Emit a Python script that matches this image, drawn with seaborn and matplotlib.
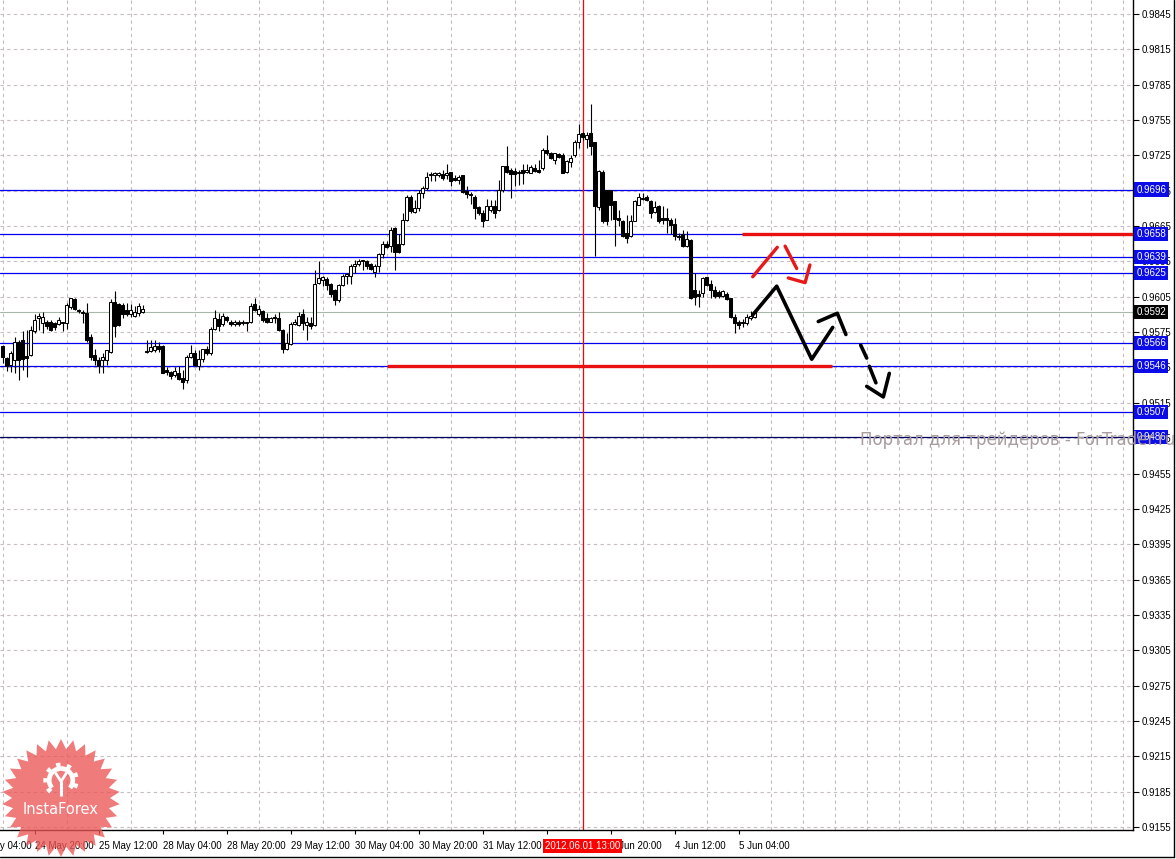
import matplotlib
matplotlib.use("Agg")
import matplotlib.pyplot as plt
import matplotlib.transforms as mtransforms
from matplotlib.lines import Line2D
from matplotlib.patches import Polygon, Wedge
from matplotlib.ticker import MultipleLocator, FormatStrFormatter
import numpy as np
import pandas as pd
import seaborn as sns

# H1 candles, bar 0 = 24 May 12:00 (weekend skipped)
opens = [
    .9563, .9553, .9547, .9551, .9567, .9568, .9555, .9556, .9576, .9587,
    .9583, .9584, .9584, .9583, .9582, .9583, .9583, .9596, .9603, .9594,
    .9592, .9591, .9571, .9556, .9551, .9551, .9551, .9558, .9601, .9599,
    .9598, .9594, .9590, .9589, .9591, .9592, .9558, .9559, .9560, .9563,
    .9563, .9543, .9541, .9539, .9540, .9536, .9534, .9554, .9557, .9546,
    .9552, .9561, .9557, .9578, .9586, .9582, .9588, .9584, .9582, .9584,
    .9583, .9583, .9584, .9599, .9590, .9593, .9587, .9584, .9588, .9587,
    .9577, .9561, .9565, .9582, .9581, .9590, .9581, .9583, .9581, .9617,
    .9619, .9620, .9616, .9611, .9602, .9615, .9623, .9623, .9631, .9633,
    .9635, .9635, .9633, .9626, .9631, .9641, .9650, .9648, .9663, .9650,
    .9650, .9670, .9690, .9677, .9680, .9693, .9697, .9708, .9708, .9708,
    .9709, .9708, .9711, .9706, .9704, .9708, .9695, .9692, .9690, .9681,
    .9676, .9670, .9679, .9682, .9679, .9696, .9716, .9713, .9712, .9710,
    .9713, .9711, .9710, .9714, .9713, .9714, .9730, .9727, .9721, .9726,
    .9725, .9711, .9719, .9725, .9736, .9744, .9739, .9744, .9736, .9681,
    .9711, .9696, .9696, .9686, .9672, .9669, .9659, .9657, .9669, .9683,
    .9688, .9690, .9686, .9677, .9682, .9672, .9672, .9670, .9667, .9657,
    .9658, .9648, .9653, .9611, .9607, .9608, .9622, .9616, .9611, .9609,
    .9606, .9607, .9604, .9588, .9584, .9583, .9583, .9587, .9588,
]
highs = [
    .9564, .9554, .9559, .9571, .9568, .9576, .9577, .9580, .9590, .9591,
    .9592, .9585, .9585, .9584, .9588, .9584, .9600, .9604, .9604, .9595,
    .9594, .9600, .9573, .9561, .9554, .9557, .9560, .9603, .9610, .9600,
    .9600, .9600, .9599, .9597, .9600, .9598, .9568, .9568, .9568, .9567,
    .9564, .9545, .9542, .9545, .9546, .9543, .9556, .9564, .9560, .9560,
    .9561, .9563, .9579, .9594, .9591, .9591, .9589, .9585, .9585, .9585,
    .9585, .9584, .9600, .9604, .9598, .9594, .9591, .9588, .9590, .9592,
    .9578, .9574, .9584, .9586, .9592, .9595, .9588, .9588, .9628, .9635,
    .9623, .9622, .9617, .9612, .9616, .9624, .9625, .9633, .9636, .9637,
    .9636, .9636, .9634, .9633, .9642, .9652, .9652, .9664, .9664, .9658,
    .9676, .9691, .9691, .9687, .9696, .9699, .9711, .9711, .9711, .9711,
    .9713, .9718, .9711, .9708, .9708, .9708, .9699, .9694, .9691, .9682,
    .9679, .9688, .9687, .9687, .9704, .9716, .9733, .9714, .9714, .9713,
    .9718, .9718, .9717, .9718, .9721, .9731, .9742, .9728, .9727, .9727,
    .9727, .9721, .9725, .9738, .9752, .9745, .9745, .9769, .9736, .9713,
    .9713, .9696, .9696, .9686, .9679, .9670, .9674, .9674, .9687, .9693,
    .9693, .9691, .9687, .9686, .9683, .9682, .9680, .9672, .9672, .9659,
    .9662, .9661, .9654, .9625, .9611, .9622, .9622, .9619, .9614, .9611,
    .9611, .9609, .9604, .9590, .9585, .9586, .9590, .9593, .9591,
]
lows = [
    .9549, .9542, .9541, .9540, .9534, .9543, .9537, .9555, .9574, .9577,
    .9574, .9578, .9576, .9577, .9581, .9576, .9578, .9595, .9594, .9591,
    .9583, .9567, .9551, .9547, .9540, .9540, .9547, .9557, .9571, .9580,
    .9587, .9589, .9588, .9588, .9589, .9591, .9557, .9558, .9558, .9558,
    .9540, .9539, .9535, .9537, .9534, .9527, .9532, .9553, .9546, .9543,
    .9550, .9556, .9556, .9577, .9576, .9580, .9584, .9580, .9580, .9580,
    .9581, .9576, .9583, .9593, .9589, .9584, .9583, .9584, .9583, .9576,
    .9557, .9560, .9564, .9581, .9580, .9577, .9568, .9578, .9580, .9616,
    .9614, .9611, .9605, .9598, .9601, .9614, .9616, .9616, .9625, .9631,
    .9628, .9629, .9628, .9622, .9626, .9638, .9646, .9643, .9628, .9642,
    .9649, .9669, .9676, .9676, .9678, .9689, .9696, .9703, .9703, .9707,
    .9704, .9705, .9699, .9703, .9701, .9693, .9689, .9684, .9671, .9674,
    .9664, .9670, .9677, .9672, .9678, .9694, .9710, .9689, .9699, .9700,
    .9701, .9710, .9710, .9711, .9710, .9713, .9725, .9722, .9718, .9723,
    .9710, .9710, .9715, .9724, .9731, .9738, .9731, .9725, .9640, .9679,
    .9668, .9666, .9670, .9648, .9665, .9656, .9651, .9656, .9669, .9683,
    .9687, .9686, .9672, .9676, .9668, .9667, .9659, .9658, .9653, .9653,
    .9647, .9647, .9603, .9598, .9596, .9605, .9614, .9604, .9604, .9604,
    .9605, .9602, .9587, .9574, .9578, .9579, .9581, .9585, .9587,
]
closes = [
    .9554, .9546, .9557, .9567, .9551, .9552, .9553, .9577, .9585, .9589,
    .9588, .9580, .9577, .9579, .9585, .9584, .9598, .9604, .9595, .9593,
    .9591, .9568, .9554, .9551, .9546, .9554, .9560, .9601, .9580, .9581,
    .9590, .9590, .9594, .9592, .9597, .9595, .9559, .9562, .9563, .9561,
    .9540, .9541, .9538, .9542, .9535, .9533, .9554, .9557, .9547, .9552,
    .9561, .9557, .9578, .9587, .9580, .9589, .9585, .9582, .9584, .9582,
    .9583, .9584, .9597, .9594, .9595, .9585, .9584, .9587, .9587, .9577,
    .9561, .9566, .9582, .9584, .9589, .9583, .9584, .9580, .9616, .9621,
    .9622, .9615, .9607, .9602, .9615, .9623, .9624, .9631, .9633, .9635,
    .9636, .9631, .9629, .9631, .9641, .9650, .9647, .9662, .9643, .9643,
    .9670, .9690, .9678, .9680, .9693, .9697, .9707, .9709, .9710, .9710,
    .9706, .9710, .9703, .9704, .9707, .9694, .9692, .9691, .9680, .9676,
    .9669, .9682, .9682, .9676, .9696, .9716, .9711, .9709, .9709, .9711,
    .9710, .9713, .9715, .9712, .9711, .9730, .9727, .9723, .9727, .9724,
    .9710, .9720, .9723, .9736, .9743, .9741, .9742, .9733, .9682, .9712,
    .9669, .9669, .9683, .9671, .9670, .9657, .9655, .9669, .9686, .9690,
    .9689, .9687, .9676, .9681, .9669, .9670, .9670, .9666, .9657, .9656,
    .9648, .9654, .9604, .9605, .9606, .9621, .9615, .9611, .9606, .9606,
    .9610, .9603, .9588, .9583, .9581, .9583, .9588, .9589, .9592,
]

tick_bars = [8, 24, 40, 56, 72, 88, 104, 120, 136, 152, 168, 184]
tick_labels = ["24 May 20:00", "25 May 12:00", "28 May 04:00", "28 May 20:00",
               "29 May 12:00", "30 May 04:00", "30 May 20:00", "31 May 12:00",
               "1 Jun 04:00", "1 Jun 20:00", "4 Jun 12:00", "5 Jun 04:00"]
first_bar, first_label = -8, "24 May 04:00"

level_prices = [0.9696, 0.9658, 0.9639, 0.9625, 0.9566, 0.9546, 0.9507]
dark_level = 0.9486
bid_price = 0.9592
marker_bar = 145
marker_label = "2012.06.01 13:00"

resist_price = 0.9658
resist_from = 184.8
support_price = 0.9546
support_from, support_to = 96.1, 207.3

# hand-drawn forecast strokes as (bar, price)
black_strokes = [
    [(187.6, 0.9590), (193.5, 0.9614), (202.25, 0.9552), (207.5, 0.9579)],
    [(203.9, 0.9584), (208.65, 0.9591), (210.8, 0.9573)],
    [(214.5, 0.9564), (216.0, 0.9553)],
    [(216.65, 0.9546), (218.3, 0.9532)],
    [(216.0, 0.9529), (220.15, 0.9520), (221.65, 0.9540)],
]
red_strokes = [
    [(187.5, 0.9622), (193.65, 0.9647)],
    [(195.6, 0.9648), (198.5, 0.9629)],
    [(196.4, 0.9621), (200.6, 0.9617), (201.8, 0.9632)],
]

df = pd.DataFrame({"open": opens, "high": highs, "low": lows, "close": closes})
df["bar"] = np.arange(len(df))
df["up"] = df["close"] >= df["open"]

sns.set_theme(style="white")
plt.rcParams["font.family"] = ["Liberation Sans", "DejaVu Sans"]

W, H = 1176, 859
fig = plt.figure(figsize=(W / 100, H / 100), dpi=100)
fig.patch.set_facecolor("white")
ax = fig.add_axes([0, 29 / H, 1133 / W, 830 / H])
ax.set_facecolor("white")

grid_kw = dict(color="#c6bcc4", linestyle=(0, (3, 3)), linewidth=0.8)

# candles
ax.vlines(df["bar"], df["low"], df["high"], color="black", linewidth=0.8, zorder=3)
body_lo = df[["open", "close"]].min(axis=1)
body_h = (df["close"] - df["open"]).abs().clip(lower=0.00002)
ax.bar(df["bar"], body_h, bottom=body_lo, width=0.62,
       color=np.where(df["up"], "white", "black"), edgecolor="black",
       linewidth=0.75, zorder=4)

# levels
for p in level_prices:
    ax.axhline(p, color="#0000f0", linewidth=0.9, zorder=2)
ax.axhline(dark_level, color="#000060", linewidth=0.9, zorder=2)
ax.axhline(bid_price, color="#a8b8a8", linewidth=0.8, zorder=2)
ax.axvline(marker_bar, color="red", linewidth=0.9, zorder=2)

ax.hlines(resist_price, resist_from, 300, color="#e81010", linewidth=2.4, zorder=5)
ax.hlines(support_price, support_from, support_to, color="#e81010", linewidth=2.4, zorder=5)

for stroke in black_strokes:
    s = pd.DataFrame(stroke, columns=["bar", "price"])
    sns.lineplot(data=s, x="bar", y="price", sort=False, color="black",
                 linewidth=2.6, ax=ax, zorder=6)
for stroke in red_strokes:
    s = pd.DataFrame(stroke, columns=["bar", "price"])
    sns.lineplot(data=s, x="bar", y="price", sort=False, color="#e81818",
                 linewidth=2.4, ax=ax, zorder=6)

# axes
ax.set_xlabel("")
ax.set_ylabel("")
ax.yaxis.tick_right()
ax.set_yticks(np.round(np.arange(0.9155, 0.98451, 0.003), 4))
ax.yaxis.set_major_formatter(FormatStrFormatter("%.4f"))
ax.set_xticks(tick_bars)
ax.set_xticklabels(tick_labels, ha="left")
ax.xaxis.set_minor_locator(MultipleLocator(8))
ax.set_xlim(-0.675, 282.575)
ax.set_ylim(0.915247, 0.985688)
ax.grid(False)
ax.yaxis.grid(True, which="major", zorder=0, **grid_kw)
ax.xaxis.grid(True, which="minor", zorder=0, **grid_kw)
ax.set_axisbelow(True)
ax.tick_params(axis="y", which="major", direction="out", length=4, width=0.8,
               pad=2.5, labelsize=7, colors="black", right=True, left=False)
ax.tick_params(axis="x", which="major", direction="out", length=3, width=0.8,
               pad=5, labelsize=7, colors="black", bottom=True)
ax.tick_params(axis="x", which="minor", length=0)
for side in ["top", "left"]:
    ax.spines[side].set_visible(False)
for side in ["right", "bottom"]:
    ax.spines[side].set_color("black")
    ax.spines[side].set_linewidth(1)

xtrans = mtransforms.blended_transform_factory(ax.transData, ax.transAxes)
# first date label sits left of the window and is cut by the edge
ax.text(first_bar + 0.5, -0.0195, first_label, transform=xtrans, ha="left",
        va="center", fontsize=7, color="black", clip_on=False)

# price boxes on the scale
ytrans = mtransforms.blended_transform_factory(ax.transAxes, ax.transData)
for p in level_prices + [dark_level]:
    ax.text(1.003, p, f"{p:.4f}", transform=ytrans, ha="left", va="center",
            fontsize=7, color="white", clip_on=False, zorder=10,
            bbox=dict(boxstyle="square,pad=0.22", fc="#0c0ce8", ec="none"))
ax.text(1.003, bid_price, f"{bid_price:.4f}", transform=ytrans, ha="left",
        va="center", fontsize=7, color="white", clip_on=False, zorder=10,
        bbox=dict(boxstyle="square,pad=0.22", fc="black", ec="none"))

# time marker box
ax.text(marker_bar, -0.0195, marker_label, transform=xtrans, ha="center",
        va="center", fontsize=7, color="white", clip_on=False, zorder=10,
        bbox=dict(boxstyle="square,pad=0.22", fc="#ff0000", ec="none"))

# window frame
fig.add_artist(Line2D([0, 1174 / W], [2 / H, 2 / H], color="black", linewidth=1))
fig.add_artist(Line2D([1174 / W, 1174 / W], [2 / H, 1], color="black", linewidth=1))

# watermark
fig.text(860 / W, 1 - 440 / H, "Портал для трейдеров - ForTrader.ru",
         fontsize=12, color="#a89c9c", ha="left", va="center", zorder=20,
         family="DejaVu Sans")

# InstaForex badge
lax = fig.add_axes([2 / W, 2 / H, 118 / W, 118 / H])
lax.set_xlim(-1, 1)
lax.set_ylim(-1, 1)
lax.axis("off")
ang = np.linspace(0, 2 * np.pi, 61)[:-1] + np.pi / 2
rad = np.where(np.arange(60) % 2 == 0, 1.0, 0.83)
lax.add_patch(Polygon(np.c_[rad * np.cos(ang), rad * np.sin(ang)],
                      closed=True, fc="#ec5656", ec="none", alpha=0.78))
# gear + fork emblem
lax.add_patch(Wedge((0, 0.3), 0.24, -40, 220, width=0.08, fc="white", ec="none"))
for a in np.arange(-20, 221, 40):
    lax.add_patch(Wedge((0, 0.3), 0.30, a - 8, a + 8, width=0.08, fc="white", ec="none"))
lax.plot([0, 0], [0.04, 0.28], color="white", lw=2.2, solid_capstyle="butt")
lax.plot([-0.09, 0, 0.09], [0.42, 0.28, 0.42], color="white", lw=2.0)
lax.text(0, -0.2, "InstaForex", color="white", fontsize=10.5, ha="center",
         va="center", family="DejaVu Sans")

fig.savefig("out.png", dpi=100)
